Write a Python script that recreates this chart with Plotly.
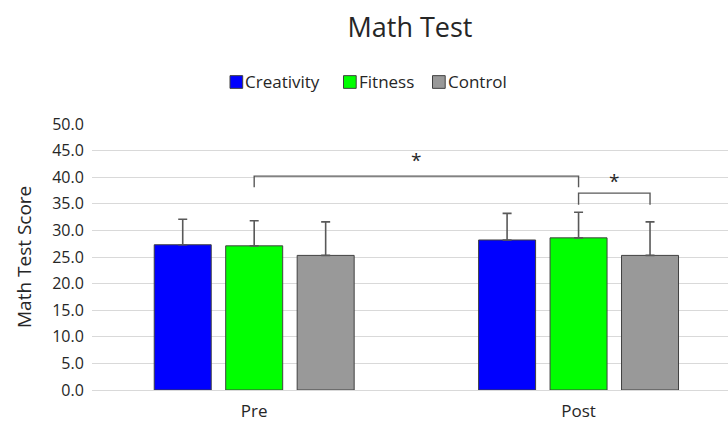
import plotly.graph_objects as go

# Mean math test scores with standard deviations
phases = ["Pre", "Post"]
groups = ["Creativity", "Fitness", "Control"]
colors = ["#0000FF", "#00FF00", "#999999"]
means = {
    "Creativity": [27.3, 28.2],
    "Fitness": [27.1, 28.6],
    "Control": [25.3, 25.3],
}
sds = {
    "Creativity": [4.8, 5.0],
    "Fitness": [4.7, 4.8],
    "Control": [6.3, 6.3],
}

# Significance brackets: (phase idx, group idx) -> (phase idx, group idx)
brackets = [
    {"start": (0, 1), "end": (1, 1), "top": 40.2, "drops": (38.1, 38.1), "label": "*", "label_y": 43.2},
    {"start": (1, 1), "end": (1, 2), "top": 37.0, "drops": (34.8, 34.8), "label": "*", "label_y": 39.2},
]

y_ticks = [0, 5, 10, 15, 20, 25, 30, 35, 40, 45, 50]

BARGAP = 0.339
BARGROUPGAP = 0.2025
FONT = "Open Sans"
TEXT = "#262626"

# plot area in pixels (used for placing the hand-drawn legend)
W, H = 728, 423
ML, MR, MT, MB = 92, 0, 124, 33
PW, PH = W - ML - MR, H - MT - MB


def px_x(px):
    return (px - ML) / PW


def px_y(py):
    return (H - MB - py) / PH


fig = go.Figure()
for g, c in zip(groups, colors):
    fig.add_trace(go.Bar(
        name=g,
        x=phases,
        y=means[g],
        marker=dict(color=c, line=dict(color="#404040", width=1)),
        error_y=dict(type="data", array=sds[g], symmetric=False, arrayminus=[0, 0],
                     color="#595959", thickness=1.6, width=4.5),
        showlegend=False,
    ))

slot = (1 - BARGAP) / len(groups)


def bar_center(phase_idx, group_idx):
    return phase_idx + (group_idx - (len(groups) - 1) / 2) * slot


line_style = dict(color="#595959", width=1.4)
for b in brackets:
    x0 = bar_center(*b["start"])
    x1 = bar_center(*b["end"])
    fig.add_shape(type="path", xref="x", yref="y",
                  path=f"M {x0},{b['drops'][0]} L {x0},{b['top']} L {x1},{b['top']} L {x1},{b['drops'][1]}",
                  line=line_style)
    fig.add_annotation(x=(x0 + x1) / 2, y=b["label_y"], xref="x", yref="y",
                       text=b["label"], showarrow=False,
                       font=dict(family=FONT, size=19, color=TEXT))

# legend: small outlined squares with labels right next to them
legend_x = [230, 343.5, 432.5]
legend_cy = 82
sq = 12.7
for g, c, lx in zip(groups, colors, legend_x):
    fig.add_shape(type="rect", xref="paper", yref="paper",
                  x0=px_x(lx), x1=px_x(lx + sq),
                  y0=px_y(legend_cy + sq / 2), y1=px_y(legend_cy - sq / 2),
                  fillcolor=c, line=dict(color="#404040", width=1))
    fig.add_annotation(x=px_x(lx + sq + 0.5), y=px_y(legend_cy), xref="paper", yref="paper",
                       text=g, showarrow=False, xanchor="left", yanchor="middle",
                       font=dict(family=FONT, size=17, color=TEXT))

fig.add_annotation(x=px_x(24), y=0.5, xref="paper", yref="paper",
                   text="Math Test Score", textangle=-90, showarrow=False,
                   xanchor="center", yanchor="middle",
                   font=dict(family=FONT, size=19, color=TEXT))

fig.update_layout(
    width=W, height=H,
    margin=dict(l=ML, r=MR, t=MT, b=MB),
    paper_bgcolor="white", plot_bgcolor="white",
    barmode="group", bargap=BARGAP, bargroupgap=BARGROUPGAP,
    title=dict(text="Math Test", x=0.5, xref="paper", xanchor="center",
               y=1 - 28 / H, yref="container", yanchor="middle",
               font=dict(family=FONT, size=27, color=TEXT)),
    font=dict(family=FONT, color=TEXT),
    showlegend=False,
)
fig.update_xaxes(range=[-0.5, 1.4607], showgrid=False, showline=True, linecolor="#d9d9d9",
                 linewidth=1, ticks="outside", ticklen=6, tickcolor="rgba(0,0,0,0)",
                 automargin=False,
                 tickfont=dict(family=FONT, size=17, color=TEXT))
fig.update_yaxes(range=[0, 50], tickvals=y_ticks, tickformat=".1f", showgrid=True,
                 gridcolor="#d9d9d9", gridwidth=1, zeroline=False, showline=False,
                 ticks="outside", ticklen=4, tickcolor="rgba(0,0,0,0)",
                 automargin=False,
                 tickfont=dict(family=FONT, size=16, color=TEXT))

fig.write_html("out.html")
